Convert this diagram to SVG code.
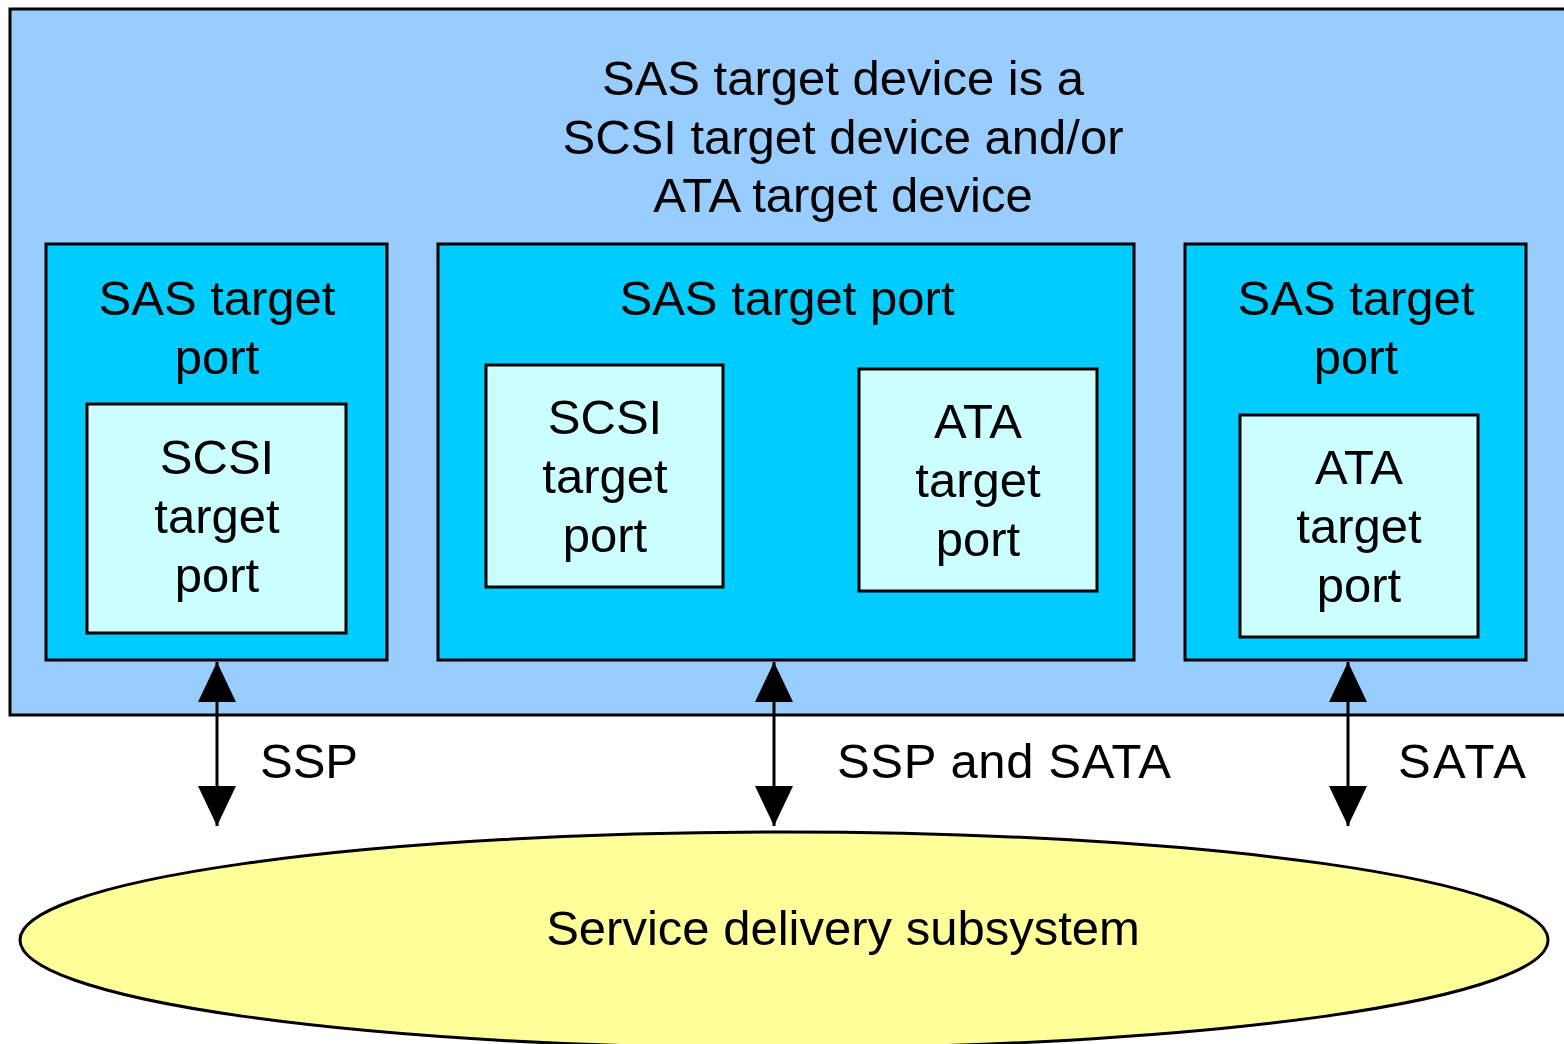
<svg xmlns="http://www.w3.org/2000/svg" width="1564" height="1044" viewBox="0 0 1564 1044">
<defs>
<style>
.t{font-family:"Liberation Sans",Arial,sans-serif;font-size:49px;fill:#000;text-anchor:middle}
.l{font-family:"Liberation Sans",Arial,sans-serif;font-size:49px;fill:#000}
.port{fill:#00CCFF;stroke:#000;stroke-width:3}
.inner{fill:#CCFFFF;stroke:#000;stroke-width:3}
.conn{stroke:#000;stroke-width:3;fill:none}
</style>
<marker id="ah" viewBox="0 0 40 38" refX="40" refY="19" markerWidth="40" markerHeight="38" markerUnits="userSpaceOnUse" orient="auto-start-reverse">
<path d="M0,0 L40,19 L0,38 Z" fill="#000"/>
</marker>
</defs>
<rect width="1564" height="1044" fill="#fff"/>
<g id="device">
<rect x="10" y="9" width="1560" height="706" fill="#99CCFF" stroke="#000" stroke-width="3"/>
<text class="t" x="843" y="95">SAS target device is a</text>
<text class="t" x="843" y="154">SCSI target device and/or</text>
<text class="t" x="843" y="212">ATA target device</text>
</g>
<g id="port-left">
<rect class="port" x="46" y="244" width="341" height="416"/>
<text class="t" x="217" y="315">SAS target</text>
<text class="t" x="217" y="374">port</text>
</g>
<g id="scsi-left">
<rect class="inner" x="87" y="404" width="259" height="229"/>
<text class="t" x="217" y="474">SCSI</text>
<text class="t" x="217" y="533">target</text>
<text class="t" x="217" y="592">port</text>
</g>
<g id="port-middle">
<rect class="port" x="438" y="244" width="696" height="416"/>
<text class="t" x="787" y="315">SAS target port</text>
</g>
<g id="scsi-middle">
<rect class="inner" x="486" y="365" width="237" height="222"/>
<text class="t" x="605" y="434">SCSI</text>
<text class="t" x="605" y="493">target</text>
<text class="t" x="605" y="552">port</text>
</g>
<g id="ata-middle">
<rect class="inner" x="859" y="369" width="238" height="222"/>
<text class="t" x="978" y="438">ATA</text>
<text class="t" x="978" y="497">target</text>
<text class="t" x="978" y="556">port</text>
</g>
<g id="port-right">
<rect class="port" x="1185" y="244" width="341" height="416"/>
<text class="t" x="1356" y="315">SAS target</text>
<text class="t" x="1356" y="374">port</text>
</g>
<g id="ata-right">
<rect class="inner" x="1240" y="415" width="238" height="222"/>
<text class="t" x="1359" y="484">ATA</text>
<text class="t" x="1359" y="543">target</text>
<text class="t" x="1359" y="602">port</text>
</g>
<g id="sds">
<ellipse cx="784" cy="940" rx="764" ry="108" fill="#FFFF99" stroke="#000" stroke-width="3"/>
<text class="t" x="843" y="945">Service delivery subsystem</text>
</g>
<g id="connectors">
<line class="conn" x1="217" y1="662" x2="217" y2="826" marker-start="url(#ah)" marker-end="url(#ah)"/>
<line class="conn" x1="774" y1="662" x2="774" y2="826" marker-start="url(#ah)" marker-end="url(#ah)"/>
<line class="conn" x1="1348" y1="662" x2="1348" y2="826" marker-start="url(#ah)" marker-end="url(#ah)"/>
<text class="l" x="260" y="778">SSP</text>
<text class="l" x="837" y="778" textLength="334">SSP and SATA</text>
<text class="l" x="1398" y="778" textLength="128">SATA</text>
</g>
</svg>
